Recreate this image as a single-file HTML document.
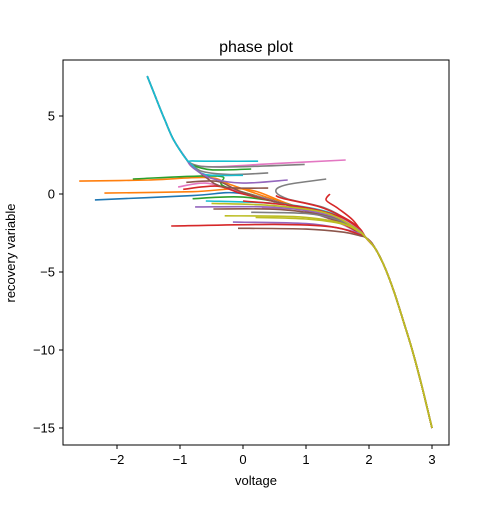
<!DOCTYPE html>
<html><head><meta charset="utf-8"><style>
body{margin:0;background:#fff;font-family:"Liberation Sans","DejaVu Sans",sans-serif}
</style></head><body>
<svg id="chart" width="500" height="500" xmlns="http://www.w3.org/2000/svg">
<rect width="500" height="500" fill="#fff"/>
<g id="series"></g>
<rect x="63" y="60" width="386" height="385" fill="none" stroke="#000" stroke-width="1"/>
<g id="xt"></g>
<g id="yt"></g>
<text x="256" y="52" text-anchor="middle" font-size="16">phase plot</text>
<text x="256" y="485" text-anchor="middle" font-size="13">voltage</text>
<text x="15" y="253" text-anchor="middle" font-size="13" transform="rotate(-90 15 253)">recovery variable</text>
</svg>
<script>
const xTicks=[-2,-1,0,1,2,3];
const yTicks=[5,0,-5,-10,-15];
const spine=[[1.95,-2.8],[2.1,-3.5],[2.25,-4.7],[2.4,-6.3],[2.55,-8.2],[2.7,-10.2],[2.85,-12.5],[3.0,-15.0]];
const branch=[[-0.89,2.18],[-1.10,3.46],[-1.24,4.74],[-1.37,6.03],[-1.52,7.56]];
const colors=["#1f77b4","#ff7f0e","#2ca02c","#d62728","#9467bd","#8c564b","#e377c2","#7f7f7f","#bcbd22","#17becf"];
const trajBranch=[
 [5,[[0.4,0.38],[-0.3,0.45],[-0.6,1.1],[-0.8,1.8]]],
 [6,[[1.63,2.18],[0.5,1.95],[-0.4,1.75],[-0.8,1.85]]],
 [7,[[0.98,1.9],[0.0,1.75],[-0.6,1.75],[-0.82,1.95]]],
 [2,[[0.13,1.6],[-0.5,1.55],[-0.8,1.85]]],
 [7,[[0.4,1.35],[-0.2,1.25],[-0.65,1.45],[-0.82,1.95]]],
 [9,[[0.0,1.2],[-0.6,1.25],[-0.82,1.9]]],
 [4,[[0.71,0.9],[0.0,0.7],[-0.5,1.0],[-0.8,1.7]]],
 [9,[[0.24,2.1],[-0.3,2.1],[-0.8,2.12]]]
];
const trajSpine=[
 [1,[[-2.6,0.83],[-1.5,0.9],[-0.55,1.05],[-0.2,0.6],[0.6,-0.5],[1.5,-1.6]]],
 [2,[[-1.75,0.96],[-0.4,1.15],[-0.3,0.5],[0.6,-0.55],[1.5,-1.7]]],
 [1,[[-2.2,0.06],[-0.8,0.15],[0.05,0.3],[0.7,-0.6],[1.5,-1.7]]],
 [0,[[-2.35,-0.38],[-0.8,-0.1],[-0.08,0.06],[0.7,-0.7],[1.5,-1.8]]],
 [2,[[-0.8,-0.3],[0.0,-0.2],[0.8,-0.75],[1.5,-1.75]]],
 [6,[[-1.03,0.45],[-0.6,0.7],[-0.2,0.3],[0.8,-0.8],[1.5,-1.8]]],
 [3,[[-0.95,0.3],[-0.4,0.5],[0.0,0.0],[0.9,-0.9],[1.55,-1.85]]],
 [5,[[-0.9,0.75],[-0.4,0.8],[0.0,0.1],[0.9,-0.95],[1.6,-1.9]]],
 [7,[[1.32,0.96],[0.7,0.6],[0.52,0.2],[0.7,-0.3],[1.3,-0.9],[1.7,-1.8]]],
 [3,[[1.38,0.0],[1.32,-0.4],[1.5,-0.9],[1.75,-1.7]]],
 [3,[[0.52,-0.1],[0.65,-0.3],[1.2,-0.8],[1.6,-1.5],[1.85,-2.2]]],
 [9,[[-0.59,-0.45],[0.5,-0.6],[1.3,-1.1],[1.75,-2.0]]],
 [3,[[0.0,-0.45],[0.9,-0.8],[1.5,-1.4],[1.8,-2.1]]],
 [6,[[0.3,-0.9],[1.0,-1.0],[1.5,-1.5],[1.8,-2.2]]],
 [4,[[-0.76,-0.83],[0.5,-0.85],[1.3,-1.3],[1.8,-2.2]]],
 [5,[[-0.47,-0.96],[0.6,-1.0],[1.4,-1.5],[1.8,-2.3]]],
 [7,[[0.13,-1.17],[1.0,-1.25],[1.5,-1.65],[1.8,-2.3]]],
 [8,[[0.2,-1.5],[1.0,-1.6],[1.6,-1.95],[1.85,-2.45]]],
 [4,[[-0.16,-1.8],[1.0,-1.9],[1.6,-2.25],[1.85,-2.55]]],
 [3,[[-1.14,-2.05],[0.5,-1.95],[1.4,-2.1],[1.85,-2.6]]],
 [5,[[-0.08,-2.2],[1.0,-2.25],[1.6,-2.45],[1.88,-2.7]]],
 [8,[[-0.5,-0.6],[0.5,-0.75],[1.3,-1.2],[1.75,-2.1]]],
 [8,[[-0.29,-1.4],[0.8,-1.45],[1.5,-1.8],[1.85,-2.4]]]
];
const X=v=>243+63*v, Y=w=>194-15.6*w;
const ns="http://www.w3.org/2000/svg";
function path(pts){
  const P=pts.map(p=>[X(p[0]),Y(p[1])]);
  let d="M"+P[0][0].toFixed(1)+","+P[0][1].toFixed(1);
  for(let i=0;i<P.length-1;i++){
    const p0=P[Math.max(0,i-1)],p1=P[i],p2=P[i+1],p3=P[Math.min(P.length-1,i+2)];
    const c1=[p1[0]+(p2[0]-p0[0])/6,p1[1]+(p2[1]-p0[1])/6];
    const c2=[p2[0]-(p3[0]-p1[0])/6,p2[1]-(p3[1]-p1[1])/6];
    d+=" C"+c1[0].toFixed(1)+","+c1[1].toFixed(1)+" "+c2[0].toFixed(1)+","+c2[1].toFixed(1)+" "+p2[0].toFixed(1)+","+p2[1].toFixed(1);
  }
  return d;
}
const g=document.getElementById("series");
function draw(list,tail,kind){
  list.forEach((t,i)=>{
    const p=document.createElementNS(ns,"path");
    p.setAttribute("d",path(t[1].concat(tail)));
    p.setAttribute("fill","none");
    p.setAttribute("stroke",colors[t[0]]);
    p.setAttribute("stroke-width","1.6");
    
    
    g.appendChild(p);
  });
}
draw(trajSpine,spine,"lower");
draw(trajBranch,branch,"upper");
const xt=document.getElementById("xt"), yt=document.getElementById("yt");
xTicks.forEach(v=>{
  const l=document.createElementNS(ns,"line");
  l.setAttribute("x1",X(v));l.setAttribute("x2",X(v));l.setAttribute("y1",445);l.setAttribute("y2",449);l.setAttribute("stroke","#000");
  
  
  xt.appendChild(l);
  const t=document.createElementNS(ns,"text");
  t.setAttribute("x",X(v));t.setAttribute("y",464);t.setAttribute("text-anchor","middle");t.setAttribute("font-size","13");
  t.textContent=v<0?"−"+(-v):String(v);
  
  
  xt.appendChild(t);
});
yTicks.forEach(v=>{
  const l=document.createElementNS(ns,"line");
  l.setAttribute("x1",59);l.setAttribute("x2",63);l.setAttribute("y1",Y(v));l.setAttribute("y2",Y(v));l.setAttribute("stroke","#000");
  
  
  yt.appendChild(l);
  const t=document.createElementNS(ns,"text");
  t.setAttribute("x",55);t.setAttribute("y",Y(v)+4.5);t.setAttribute("text-anchor","end");t.setAttribute("font-size","13");
  t.textContent=v<0?"−"+(-v):String(v);
  
  
  yt.appendChild(t);
});
</script>
</body></html>
